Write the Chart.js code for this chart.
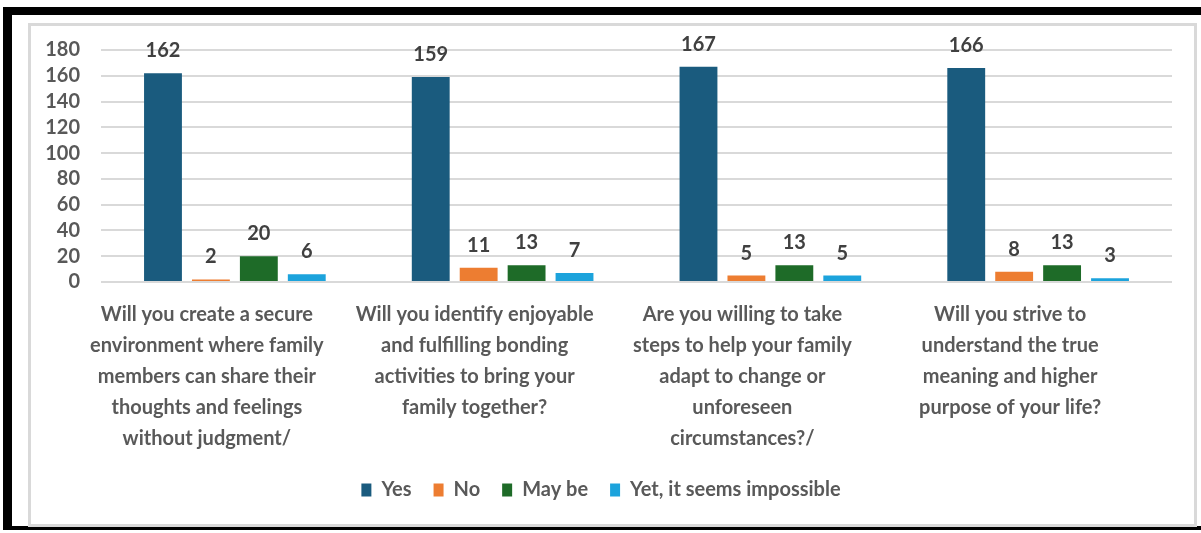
<!DOCTYPE html>
<html>
<head>
<meta charset="utf-8">
<script src="https://cdn.jsdelivr.net/npm/chart.js@4/dist/chart.umd.min.js"></script>
<style>
    html, body { margin: 0; padding: 0; background: #fff; }
    body { width: 1201px; height: 533px; position: relative; overflow: hidden; }
    .frame { position: absolute; left: 3px; top: 7px; width: 1198px; height: 523px; box-sizing: border-box;
             border-top: 8px solid #000; border-left: 9px solid #000; border-bottom: 4px solid #000; }
    .inner { position: absolute; left: 28px; top: 23px; width: 1169px; height: 504px; box-sizing: border-box;
             border: 3px solid #d9d9d9; }
    #wrap { position: absolute; left: 0; top: 0; width: 1201px; height: 533px; }
</style>
</head>
<body>
<div class="frame"></div>
<div class="inner"></div>
<div id="wrap"><canvas id="surveyChart"></canvas></div>
<script>
    const categories = [
        ['Will you create a secure', 'environment where family', 'members can share their', 'thoughts and feelings', 'without judgment/'],
        ['Will you identify enjoyable', 'and fulfilling bonding', 'activities to bring your', 'family together?'],
        ['Are you willing to take', 'steps to help your family', 'adapt to change or', 'unforeseen', 'circumstances?/'],
        ['Will you strive to', 'understand the true', 'meaning and higher', 'purpose of your life?']
    ];
    const yesValues = [162, 159, 167, 166];
    const noValues = [2, 11, 5, 8];
    const maybeValues = [20, 13, 13, 13];
    const yetValues = [6, 7, 5, 3];
    const yTicks = [0, 20, 40, 60, 80, 100, 120, 140, 160, 180];

    const FONT = 'Lato, "Open Sans", sans-serif';

    // value labels above each bar (no datalabels plugin offline)
    const barValueLabels = {
        id: 'barValueLabels',
        afterDatasetsDraw(chart) {
            const ctx = chart.ctx;
            ctx.save();
            ctx.font = 'bold 20px ' + FONT;
            ctx.fillStyle = '#404040';
            ctx.textAlign = 'center';
            ctx.textBaseline = 'alphabetic';
            chart.data.datasets.forEach((ds, i) => {
                const meta = chart.getDatasetMeta(i);
                meta.data.forEach((bar, j) => {
                    ctx.fillText(String(ds.data[j]), bar.x, bar.y - 16);
                });
            });
            ctx.restore();
        }
    };

    const ctx = document.getElementById('surveyChart').getContext('2d');
    new Chart(ctx, {
        type: 'bar',
        data: {
            labels: categories,
            datasets: [
                { label: 'Yes', data: yesValues, backgroundColor: '#1a5b7e' },
                { label: 'No', data: noValues, backgroundColor: '#ed7d31' },
                { label: 'May be', data: maybeValues, backgroundColor: '#1e6b28' },
                { label: 'Yet, it seems impossible', data: yetValues, backgroundColor: '#1ca3dc' }
            ]
        },
        options: {
            responsive: true,
            maintainAspectRatio: false,
            animation: false,
            datasets: {
                bar: { categoryPercentage: 0.716, barPercentage: 0.79 }
            },
            layout: { padding: { left: 30, top: 50, right: 29, bottom: 23 } },
            plugins: {
                legend: {
                    position: 'bottom',
                    labels: {
                        boxWidth: 10,
                        boxHeight: 13,
                        padding: 22,
                        color: '#595959',
                        font: { family: FONT, size: 20, weight: 'bold' }
                    }
                },
                tooltip: { enabled: false }
            },
            scales: {
                x: {
                    grid: { display: false, drawTicks: false },
                    border: { display: false },
                    ticks: {
                        autoSkip: false,
                        maxRotation: 0,
                        padding: 17,
                        labelOffset: -28,
                        color: '#595959',
                        font: { family: FONT, size: 20, weight: 'bold', lineHeight: 1.55 }
                    },
                    afterFit(scale) { scale.height = 176; }
                },
                y: {
                    min: 0,
                    max: 180,
                    afterBuildTicks(scale) { scale.ticks = yTicks.map(v => ({ value: v })); },
                    afterFit(scale) { scale.width = 71; },
                    grid: { color: '#d9d9d9', lineWidth: 2, drawTicks: false },
                    border: { display: false },
                    ticks: {
                        autoSkip: false,
                        padding: 21,
                        color: '#595959',
                        font: { family: FONT, size: 20, weight: 'bold', lineHeight: 1 }
                    }
                }
            }
        },
        plugins: [barValueLabels]
    });
</script>
</body>
</html>
